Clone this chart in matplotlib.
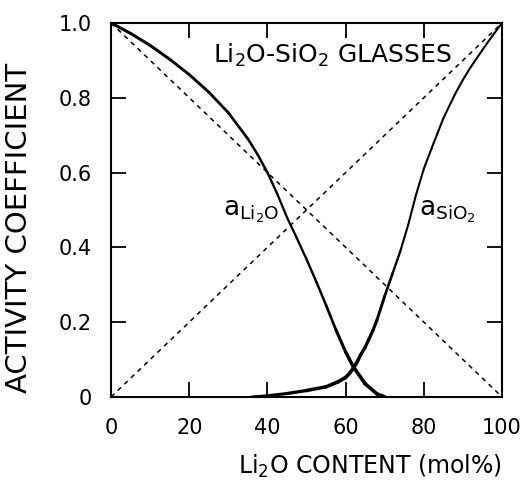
import numpy as np
import matplotlib
matplotlib.use("Agg")
import matplotlib.pyplot as plt
from matplotlib.collections import LineCollection

# activity of Li2O
li2o_x = [0, 5, 10, 15, 20, 25, 30, 35, 37.5, 40, 42.5, 45, 47.5, 50, 52.5, 55, 57.5,
          60, 62, 65, 68, 70]
li2o_y = [1.0, 0.972, 0.94, 0.903, 0.862, 0.815, 0.76, 0.69, 0.648, 0.60, 0.543, 0.48, 0.425,
          0.368, 0.308, 0.245, 0.18, 0.12, 0.08, 0.035, 0.008, 0.0]

# activity of SiO2
sio2_x = [36, 40, 45, 50, 55, 58, 60, 61, 62, 63, 64, 65, 66, 67, 68, 70, 72, 74, 76, 78, 80,
          82, 85, 88, 90, 92, 95, 97.5, 100]
sio2_y = [0.0, 0.003, 0.009, 0.017, 0.027, 0.04, 0.052, 0.063, 0.077, 0.095, 0.115, 0.133,
          0.155, 0.178, 0.205, 0.27, 0.33, 0.39, 0.46, 0.54, 0.61, 0.665, 0.745, 0.81, 0.848,
          0.882, 0.928, 0.965, 1.0]

# ideal (Raoult) lines
ideal_x = [0, 100]
ideal_li2o = [1.0, 0.0]
ideal_sio2 = [0.0, 1.0]

x_ticks = [0, 20, 40, 60, 80, 100]
x_ticklabels = ["0", "20", "40", "60", "80", "100"]
y_ticks = [0, 0.2, 0.4, 0.6, 0.8, 1.0]
y_ticklabels = ["0", "0.2", "0.4", "0.6", "0.8", "1.0"]

plt.rcParams['font.family'] = ['DejaVu Sans']
plt.rcParams['mathtext.default'] = 'regular'


def varline(ax, xs, ys, wx, ww):
    # pen width changes along the curve like in the hand-drawn original
    pts = np.column_stack([xs, ys])
    segs = np.stack([pts[:-1], pts[1:]], axis=1)
    mid = (np.asarray(xs[:-1]) + np.asarray(xs[1:])) / 2
    lc = LineCollection(segs, colors="black", linewidths=np.interp(mid, wx, ww),
                        capstyle="round", joinstyle="round")
    ax.add_collection(lc)


fig = plt.figure(figsize=(5.24, 4.84), dpi=100)
ax = fig.add_axes([0.212, 0.18, 0.746, 0.7725])

ax.plot(ideal_x, ideal_li2o, color="black", lw=1.1, linestyle=(0, (3, 3)))
ax.plot(ideal_x, ideal_sio2, color="black", lw=1.1, linestyle=(0, (3, 3)))
varline(ax, li2o_x, li2o_y, [0, 30, 45, 55, 62, 70], [2.2, 2.0, 1.6, 1.8, 2.6, 2.6])
varline(ax, sio2_x, sio2_y, [36, 55, 62, 68, 75, 100], [2.0, 2.6, 2.6, 2.2, 1.5, 1.5])

ax.set_xlim(0, 100)
ax.set_ylim(0, 1.0)
ax.set_xticks(x_ticks)
ax.set_xticklabels(x_ticklabels)
ax.set_yticks(y_ticks)
ax.set_yticklabels(y_ticklabels)
ax.tick_params(direction="in", length=11, width=1.3, top=True, right=True, labelsize=15)
ax.tick_params(axis="x", pad=15)
ax.tick_params(axis="y", pad=14)
for s in ax.spines.values():
    s.set_linewidth(1.5)

ax.set_xlabel("Li$_2$O CONTENT (mol%)", fontsize=17, loc="right")
ax.xaxis.set_label_coords(1.0, -0.15)
ax.set_ylabel("ACTIVITY COEFFICIENT", fontsize=21)
ax.yaxis.set_label_coords(-0.2, 0.452)

ax.text(26, 0.914, "Li$_2$O-SiO$_2$ GLASSES", fontsize=18, va="center", ha="left")
ax.text(28.6, 0.485, "a$_{Li_2O}$", fontsize=19, va="baseline", ha="left")
ax.text(78.8, 0.485, "a$_{SiO_2}$", fontsize=19, va="baseline", ha="left")

fig.savefig("out.png", dpi=100)
